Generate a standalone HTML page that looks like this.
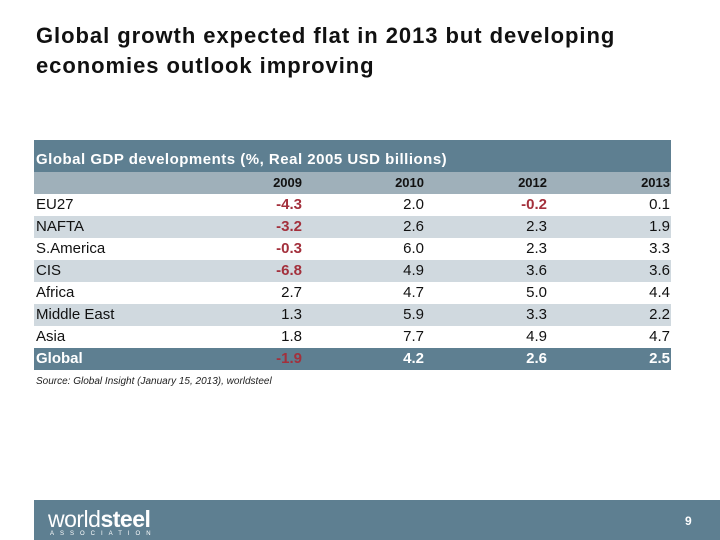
<!DOCTYPE html>
<html><head><meta charset="utf-8"><style>
body{margin:0;width:720px;height:540px;background:#fff;font-family:"Liberation Sans",sans-serif;position:relative;overflow:hidden}
.title{position:absolute;left:36px;top:21px;font-size:22px;font-weight:bold;line-height:30px;color:#111;letter-spacing:0.95px}
.tbar{position:absolute;left:34px;top:140px;width:637px;height:32px;background:#5e7f91;color:#fff;font-size:15px;font-weight:bold;line-height:40px;padding-left:2px;box-sizing:border-box;letter-spacing:0.5px}
.row{position:absolute;left:34px;width:637px;height:22px;font-size:15px;line-height:22px;color:#111}
.row span{position:absolute;top:0}
.lab{left:2px}
.c{text-align:right;width:80px}
.neg{color:#a3303c;font-weight:bold}
.src{position:absolute;left:36px;top:376px;font-size:10px;font-style:italic;color:#222}
.foot{position:absolute;left:34px;top:500px;width:686px;height:40px;background:#5e7f91;color:#fff}
</style></head><body>
<div class="title">Global growth expected flat in 2013 but developing<br>economies outlook improving</div>
<div class="tbar">Global GDP developments (%, Real 2005 USD billions)</div>
<div id="tbl"></div>
<div class="src">Source: Global Insight (January 15, 2013), worldsteel</div>
<div class="foot">
<div style="position:absolute;left:14px;top:6px;font-size:23px;letter-spacing:-0.5px">world<b>steel</b></div>
<div style="position:absolute;left:16px;top:31px;font-size:6px;letter-spacing:6px">ASSOCIATION</div>
<div style="position:absolute;left:651px;top:14px;font-size:12px;font-weight:bold">9</div>
</div>
<script>
const years=["2009","2010","2012","2013"];
const regions=["EU27","NAFTA","S.America","CIS","Africa","Middle East","Asia","Global"];
const v2009=[-4.3,-3.2,-0.3,-6.8,2.7,1.3,1.8,-1.9];
const v2010=[2.0,2.6,6.0,4.9,4.7,5.9,7.7,4.2];
const v2012=[-0.2,2.3,2.3,3.6,5.0,3.3,4.9,2.6];
const v2013=[0.1,1.9,3.3,3.6,4.4,2.2,4.7,2.5];
const cols=[v2009,v2010,v2012,v2013];
const rights=[268,390,513,636];
const t=document.getElementById('tbl');
let h=document.createElement('div');h.className='row';


h.style.top='172px';h.style.background='#9fb0ba';h.style.fontSize='13px';h.style.fontWeight='bold';
years.forEach((y,i)=>{const s=document.createElement('span');s.className='c';s.style.left=(rights[i]-80)+'px';s.textContent=y;


h.appendChild(s);});
t.appendChild(h);
regions.forEach((r,k)=>{
const d=document.createElement('div');d.className='row';


d.style.top=(194+22*k)+'px';
const g=k===regions.length-1;
if(g){d.style.background='#5e7f91';d.style.color='#fff';d.style.fontWeight='bold';}
else if(k%2===1)d.style.background='#d0d9df';
const l=document.createElement('span');l.className='lab';l.textContent=r;


d.appendChild(l);
cols.forEach((c,i)=>{const s=document.createElement('span');s.className='c'+(c[k]<0?' neg':'');
s.style.left=(rights[i]-80)+'px';s.textContent=c[k].toFixed(1);


d.appendChild(s);});
t.appendChild(d);});
</script>
</body></html>
